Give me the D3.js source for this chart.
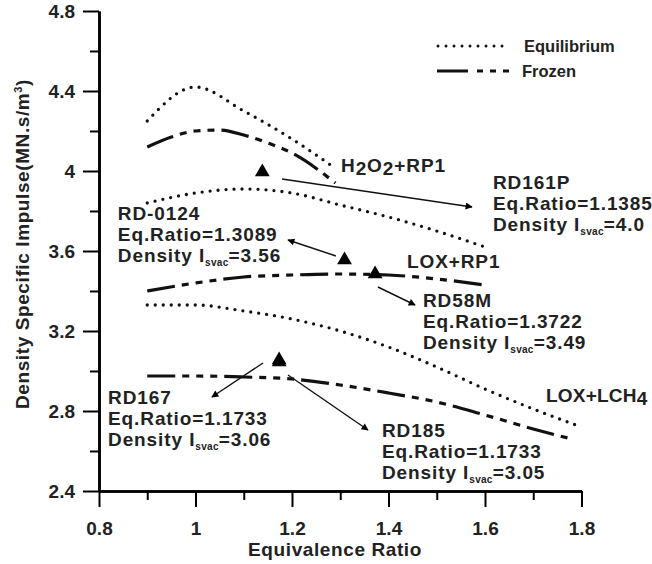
<!DOCTYPE html>
<html>
<head>
<meta charset="utf-8">
<script src="https://cdn.jsdelivr.net/npm/d3@7"></script>
<style>
  body { margin: 0; background: #fff; }
  svg { display: block; font-family: "Liberation Sans", Arial, sans-serif; font-weight: bold; }
</style>
</head>
<body>
<svg id="chart" width="652" height="564"></svg>
<script>
// curves: [equivalence ratio, density specific impulse]
const h2o2Equilibrium = [[0.9, 4.25], [1.0, 4.42], [1.1, 4.30], [1.2, 4.16], [1.28, 4.03]];
const h2o2Frozen = [[0.9, 4.12], [0.95, 4.17], [1.0, 4.20], [1.05, 4.205], [1.1, 4.18], [1.15, 4.14], [1.2, 4.09], [1.29, 3.94]];
const rp1Equilibrium = [[0.9, 3.84], [1.0, 3.89], [1.1, 3.91], [1.2, 3.89], [1.3, 3.83], [1.4, 3.77], [1.5, 3.70], [1.6, 3.62]];
const rp1Frozen = [[0.9, 3.40], [1.0, 3.44], [1.1, 3.47], [1.2, 3.48], [1.3, 3.485], [1.4, 3.48], [1.5, 3.46], [1.6, 3.43]];
const ch4Equilibrium = [[0.9, 3.33], [1.0, 3.33], [1.1, 3.30], [1.2, 3.26], [1.3, 3.20], [1.4, 3.12], [1.5, 3.02], [1.6, 2.91], [1.7, 2.81], [1.8, 2.72]];
const ch4Frozen = [[0.9, 2.975], [1.0, 2.975], [1.1, 2.97], [1.2, 2.96], [1.3, 2.93], [1.4, 2.89], [1.5, 2.845], [1.6, 2.78], [1.7, 2.71], [1.78, 2.66]];

// engines
const engineNames = ["RD161P", "RD-0124", "RD58M", "RD167", "RD185"];
const engineEqRatio = [1.1385, 1.3089, 1.3722, 1.1733, 1.1733];
const engineDensity = [4.0, 3.56, 3.49, 3.06, 3.05];
const engineDensityText = ["4.0", "3.56", "3.49", "3.06", "3.05"];

const xTicks = [0.8, 1, 1.2, 1.4, 1.6, 1.8];
const yTicks = [2.4, 2.8, 3.2, 3.6, 4, 4.4, 4.8];
const xMinor = [0.9, 1.1, 1.3, 1.5, 1.7];
const yMinor = [2.6, 3.0, 3.4, 3.8, 4.2, 4.6];

// layout (in chart units): label anchor, arrow start, arrow end
const engineLayout = [
  { label: [1.6166, 3.91], from: [1.1793, 3.96], to: [1.573, 3.82] },
  { label: [0.839, 3.755], from: [1.291, 3.575], to: [1.1917, 3.655] },
  { label: [1.4715, 3.32], from: [1.378, 3.42], to: [1.455, 3.33] },
  { label: [0.8187, 2.835], from: [1.14, 3.04], to: [1.034, 2.87] },
  { label: [1.3865, 2.67], from: [1.1917, 2.98], to: [1.3575, 2.705] }
];

const svg = d3.select("#chart");
const x = d3.scaleLinear().domain([0.8, 1.8]).range([99, 581.5]);
const y = d3.scaleLinear().domain([2.4, 4.8]).range([491, 11]);

const FONT = 19;
const SPACING = 0.9;
const FROZEN_DASH = "28,7,7,7,7,7,7,7";

// arrow head
svg.append("defs").append("marker")
  .attr("id", "head")
  .attr("viewBox", "0 0 10 10")
  .attr("refX", 9).attr("refY", 5)
  .attr("markerWidth", 10).attr("markerHeight", 7)
  .attr("markerUnits", "userSpaceOnUse")
  .attr("orient", "auto")
  .append("path").attr("d", "M0,0L10,5L0,10Z").attr("fill", "#000");

// axes
const xAxis = svg.append("g").attr("transform", `translate(0,${y(2.4)})`)
  .call(d3.axisBottom(x).tickValues(xTicks).tickSize(16).tickSizeOuter(0).tickFormat(d => d));
const xAxisMinor = svg.append("g").attr("transform", `translate(0,${y(2.4)})`)
  .call(d3.axisBottom(x).tickValues(xMinor).tickSize(9).tickSizeOuter(0).tickFormat(""));
const yAxis = svg.append("g").attr("transform", `translate(${x(0.8)},0)`)
  .call(d3.axisLeft(y).tickValues(yTicks).tickSize(16).tickSizeOuter(0).tickFormat(d => d));
const yAxisMinor = svg.append("g").attr("transform", `translate(${x(0.8)},0)`)
  .call(d3.axisLeft(y).tickValues(yMinor).tickSize(9).tickSizeOuter(0).tickFormat(""));

[xAxis, xAxisMinor, yAxis, yAxisMinor].forEach(a => {
  a.select(".domain").attr("stroke-width", 2.5);
  a.selectAll(".tick line").attr("stroke-width", 2);
  a.selectAll("text").attr("font-size", FONT).attr("font-family", "Liberation Sans, Arial, sans-serif").attr("font-weight", "bold").attr("fill", "#222");
});
xAxis.selectAll("text").attr("dy", null).attr("y", 44);
yAxis.selectAll("text").attr("x", -24).attr("dy", "0.36em");

// axis titles
svg.append("text")
  .attr("x", 335).attr("y", 556)
  .attr("text-anchor", "middle").attr("font-size", FONT).attr("letter-spacing", 0.6).attr("fill", "#222")
  .text("Equivalence Ratio");

const yTitle = svg.append("text")
  .attr("transform", "translate(29,244) rotate(-90)")
  .attr("text-anchor", "middle").attr("font-size", FONT).attr("letter-spacing", 0.6).attr("fill", "#222");
yTitle.append("tspan").text("Density Specific Impulse(MN.s/m");
yTitle.append("tspan").attr("font-size", 11).attr("dy", -7).text("3");
yTitle.append("tspan").attr("dy", 7).text(")");

// curves
const line = d3.line().x(d => x(d[0])).y(d => y(d[1])).curve(d3.curveMonotoneX);
const curves = svg.append("g").attr("fill", "none").attr("stroke", "#111");

[h2o2Equilibrium, rp1Equilibrium, ch4Equilibrium].forEach(data => {
  curves.append("path").attr("d", line(data))
    .attr("stroke-width", 3.3).attr("stroke-linecap", "round")
    .attr("stroke-dasharray", "0,8");
});
[h2o2Frozen, rp1Frozen, ch4Frozen].forEach(data => {
  curves.append("path").attr("d", line(data))
    .attr("stroke-width", 3.2)
    .attr("stroke-dasharray", FROZEN_DASH);
});

// curve labels
function subLabel(px, py, spacing, parts) {
  const t = svg.append("text").attr("x", px).attr("y", py).attr("font-size", FONT).attr("letter-spacing", spacing).attr("fill", "#222");
  parts.forEach(p => {
    if (p.sub) t.append("tspan").attr("dy", 3).text(p.sub);
    else t.append("tspan").attr("dy", p.after ? -3 : 0).text(p.text);
  });
}
subLabel(x(1.3016), y(3.995), SPACING, [{ text: "H" }, { sub: "2" }, { text: "O", after: true }, { sub: "2" }, { text: "+RP1", after: true }]);
svg.append("text").attr("x", x(1.4383)).attr("y", y(3.515)).attr("font-size", FONT).attr("letter-spacing", SPACING).attr("fill", "#222").text("LOX+RP1");
subLabel(x(1.7265), y(2.845), 0.2, [{ text: "LOX+LCH" }, { sub: "4" }]);

// arrows
svg.append("g").selectAll("line")
  .data(engineLayout)
  .join("line")
  .attr("x1", d => x(d.from[0])).attr("y1", d => y(d.from[1]))
  .attr("x2", d => x(d.to[0])).attr("y2", d => y(d.to[1]))
  .attr("stroke", "#111").attr("stroke-width", 1.4)
  .attr("marker-end", "url(#head)");

// engine markers
svg.append("g").selectAll("path")
  .data(engineNames)
  .join("path")
  .attr("transform", (d, i) => `translate(${x(engineEqRatio[i])},${y(engineDensity[i]) + 1})`)
  .attr("d", d3.symbol().type(d3.symbolTriangle).size(95))
  .attr("fill", "#000");

// engine labels
engineNames.forEach((name, i) => {
  const lx = x(engineLayout[i].label[0]);
  const ly = y(engineLayout[i].label[1]);
  const g = svg.append("g").attr("font-size", FONT).attr("letter-spacing", SPACING).attr("fill", "#222");
  g.append("text").attr("x", lx).attr("y", ly).text(name);
  g.append("text").attr("x", lx).attr("y", ly + 21).text("Eq.Ratio=" + engineEqRatio[i]);
  const t = g.append("text").attr("x", lx).attr("y", ly + 42);
  t.append("tspan").text("Density I");
  t.append("tspan").attr("font-size", 10).attr("letter-spacing", 0.3).attr("dy", 4).text("svac");
  t.append("tspan").attr("dy", -4).text("=" + engineDensityText[i]);
});

// legend
const legend = svg.append("g");
legend.append("line").attr("x1", 438).attr("x2", 510).attr("y1", 46).attr("y2", 46)
  .attr("stroke", "#111").attr("stroke-width", 3).attr("stroke-linecap", "round").attr("stroke-dasharray", "0,8");
legend.append("line").attr("x1", 437).attr("x2", 516).attr("y1", 71).attr("y2", 71)
  .attr("stroke", "#111").attr("stroke-width", 3).attr("stroke-dasharray", "31,9,6,7,6,7,6,7");
legend.append("text").attr("x", 524).attr("y", 52).attr("font-size", 16.5).attr("fill", "#222").text("Equilibrium");
legend.append("text").attr("x", 522).attr("y", 77).attr("font-size", 16.5).attr("fill", "#222").text("Frozen");
</script>
</body>
</html>
